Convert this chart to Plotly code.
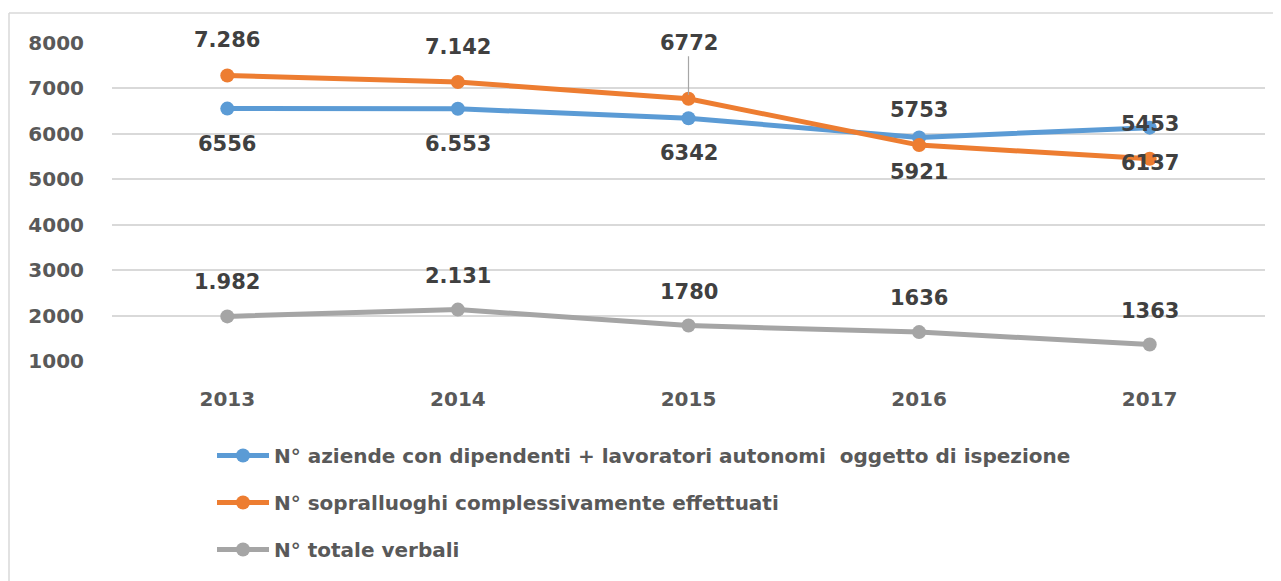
import plotly.graph_objects as go

years = ["2013", "2014", "2015", "2016", "2017"]
aziende = [6556, 6553, 6342, 5921, 6137]
sopralluoghi = [7286, 7142, 6772, 5753, 5453]
verbali = [1982, 2131, 1780, 1636, 1363]

aziende_labels = ["6556", "6.553", "6342", "5921", "6137"]
sopralluoghi_labels = ["7.286", "7.142", "6772", "5753", "5453"]
verbali_labels = ["1.982", "2.131", "1780", "1636", "1363"]

names = [
    "N° aziende con dipendenti + lavoratori autonomi  oggetto di ispezione",
    "N° sopralluoghi complessivamente effettuati",
    "N° totale verbali",
]
colors = ["#5B9BD5", "#ED7D31", "#A5A5A5"]
series = [aziende, sopralluoghi, verbali]

FONT = "DejaVu Sans"
fig = go.Figure()
for i, (vals, name, col) in enumerate(zip(series, names, colors)):
    fig.add_trace(go.Scatter(
        x=years, y=vals, name=name, mode="lines+markers",
        line=dict(color=col, width=5),
        marker=dict(color=col, size=14),
        legendgroup=str(i),
        cliponaxis=False,
    ))

annotations = []
lab_font = dict(family=FONT, size=21, color="#404040", weight="bold")
for i, (v, t) in enumerate(zip(aziende, aziende_labels)):
    annotations.append(dict(x=i, y=v, text=t, showarrow=False,
                            yshift=-35, font=lab_font))
for i, (v, t) in enumerate(zip(sopralluoghi, sopralluoghi_labels)):
    if t == "6772":
        annotations.append(dict(x=i, y=v, text=t, showarrow=True,
                                ax=0, ay=-56, arrowhead=0, arrowwidth=1.2,
                                arrowcolor="#A6A6A6", standoff=4, font=lab_font))
    else:
        annotations.append(dict(x=i, y=v, text=t, showarrow=False,
                                yshift=35, font=lab_font))
for i, (v, t) in enumerate(zip(verbali, verbali_labels)):
    annotations.append(dict(x=i, y=v, text=t, showarrow=False,
                            yshift=34, font=lab_font))

# page has an 8px body margin: work in page pixels and offset
OFF = 8
W, H = 1281 - OFF, 581 - OFF
PL, PR, PT, PB = 112, 1265, 43, 361  # plot area in page pixels
L, R, T, B = PL - OFF, W - (PR - OFF), PT - OFF, H - (PB - OFF)
pw, ph = W - L - R, H - T - B
def px(xp):
    return (xp - OFF - L) / pw
def py(yp):
    return (H - B - (yp - OFF)) / ph

shapes = [
    dict(type="line", xref="paper", yref="paper", x0=px(9), x1=px(1300),
         y0=py(13), y1=py(13), line=dict(color="#D9D9D9", width=1.5)),
    dict(type="line", xref="paper", yref="paper", x0=px(9), x1=px(9),
         y0=py(13), y1=py(600), line=dict(color="#D9D9D9", width=1.5)),
]

fig.update_layout(
    width=W, height=H,
    margin=dict(l=L, r=R, t=T, b=B, autoexpand=False),
    paper_bgcolor="white", plot_bgcolor="white",
    font=dict(family=FONT, color="#595959", weight="bold"),
    annotations=annotations,
    shapes=shapes,
    showlegend=True,
    legend=dict(
        x=px(212), y=py(436), xanchor="left", yanchor="top",
        orientation="v",
        font=dict(family=FONT, size=20, color="#595959", weight="bold"),
        tracegroupgap=18,
        itemwidth=52,
        bgcolor="rgba(0,0,0,0)",
    ),
    xaxis=dict(
        type="category", range=[-0.5, 4.5], showgrid=False, showline=False,
        zeroline=False,
        tickfont=dict(family=FONT, size=20, color="#595959", weight="bold"),
        ticks="", ticklabelstandoff=24,
    ),
    yaxis=dict(
        range=[1000, 8000], dtick=1000, tick0=0,
        showgrid=True, gridcolor="#D9D9D9", gridwidth=1.5,
        zeroline=False, showline=False,
        tickfont=dict(family=FONT, size=20, color="#595959", weight="bold"),
        ticks="", ticklabelstandoff=27,
        tickformat="d",
    ),
)

fig.write_html("out.html")
